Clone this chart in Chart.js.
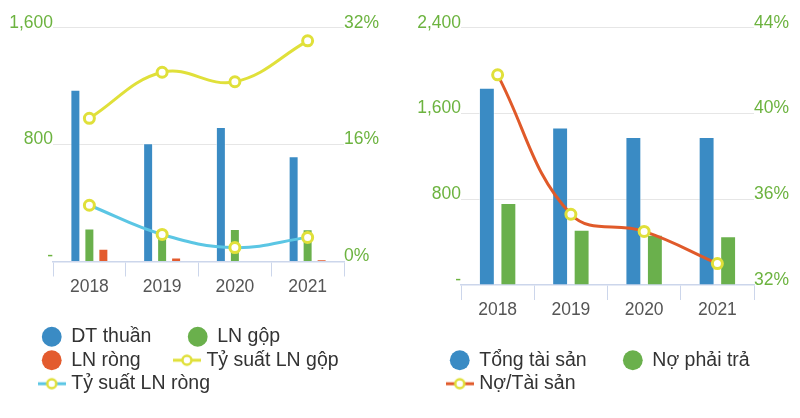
<!DOCTYPE html>
<html><head><meta charset="utf-8">
<script src="https://cdn.jsdelivr.net/npm/chart.js@4.4.0/dist/chart.umd.min.js"></script>
<style>
html,body{margin:0;padding:0;background:#fff;}
.wrap{display:flex;width:800px;height:418px;}
canvas{display:block;}
</style></head><body>
<div class="wrap"><canvas id="c1" width="400" height="418"></canvas><canvas id="c2" width="400" height="418"></canvas></div>
<script>
// ---- data ----
const categories = ['2018', '2019', '2020', '2021'];
// left chart
const dtThuan = [1175, 810, 920, 720];
const lnGop = [225, 210, 222, 220];
const lnRong = [88, 28, 0, 15];
const tsLnGop = [19.6, 25.9, 24.6, 30.2];
const tsLnRong = [7.7, 3.7, 1.9, 3.3];
const leftTicksY = [0, 800, 1600];
const leftTicksY1 = [0, 16, 32];
// right chart
const tongTaiSan = [1840, 1470, 1380, 1380];
const noPhaiTra = [765, 515, 468, 455];
const noTaiSan = [41.8, 35.3, 34.5, 33.0];
const rightTicksY = [0, 800, 1600, 2400];
const rightTicksY1 = [32, 36, 40, 44];

const FONT = '"Liberation Sans", Arial, Helvetica, sans-serif';
const BLUE = '#3a8bc4', GREEN = '#6ab04c', RED = '#e35b2e', YELLOW = '#e0e03a', CYAN = '#5bc6e4', ORANGE = '#e05a2a';
const TICK_GREEN = '#6cb33f';
const PAD = '      ';

function lineIcon(color) {
  const c = document.createElement('canvas');
  c.width = 28; c.height = 14;
  const g = c.getContext('2d');
  g.strokeStyle = color; g.lineWidth = 3;
  g.beginPath(); g.moveTo(0, 7); g.lineTo(28, 7); g.stroke();
  g.beginPath(); g.arc(14, 7, 4.5, 0, Math.PI * 2);
  g.fillStyle = '#fff'; g.fill();
  g.strokeStyle = YELLOW; g.lineWidth = 2.5; g.stroke();
  return c;
}

function barDs(label, data, color) {
  return { type: 'bar', label, data, backgroundColor: color, borderColor: 'rgba(255,255,255,0.55)', borderWidth: 1, borderSkipped: 'start', yAxisID: 'y', order: 1 };
}
function lineDs(label, data, color, axis) {
  return { type: 'line', label, data, borderColor: color, backgroundColor: color, borderWidth: 3, tension: 0.4,
    pointRadius: 5, pointHoverRadius: 5, pointBorderWidth: 3, pointBackgroundColor: '#fff', pointBorderColor: YELLOW,
    yAxisID: axis, order: 0, fill: false };
}

function makeLegend(icons) {
  return {
    position: 'bottom', align: 'start',
    labels: {
      usePointStyle: true, boxHeight: 14, padding: 4, color: '#333',
      font: { size: 19.5, family: FONT },
      generateLabels(chart) {
        const items = Chart.defaults.plugins.legend.labels.generateLabels(chart);
        items.sort((a, b) => a.datasetIndex - b.datasetIndex);
        items.forEach(it => {
          const ds = chart.data.datasets[it.datasetIndex];
          it.text = it.text + PAD;
          if (ds.type === 'line') {
            it.pointStyle = icons[it.datasetIndex];
          } else {
            it.pointStyle = 'circle';
            it.fillStyle = ds.backgroundColor;
            it.strokeStyle = ds.backgroundColor;
            it.lineWidth = 0;
          }
        });
        return items;
      }
    }
  };
}

function legendShift(dx) {
  return { id: 'legendShift', afterLayout(chart) { const l = chart.legend; if (l) { l.left += dx; l.right += dx; } } };
}

function numFmt(v) { return v === 0 ? '-' : v.toLocaleString('en-US'); }

function makeOptions(opts) {
  return {
    responsive: false, animation: false, devicePixelRatio: 1,
    layout: { padding: { left: 0, right: 0, top: 27.7, bottom: 14.5 } },
    plugins: { legend: makeLegend(opts.icons), tooltip: { enabled: false } },
    datasets: { bar: { categoryPercentage: opts.catPct, barPercentage: opts.barPct } },
    scales: {
      x: {
        grid: { offset: true, drawOnChartArea: false, drawTicks: true, tickLength: 15, color: '#ccd6eb', lineWidth: 1 },
        border: { display: true, color: '#ccd6eb', width: 1.5 },
        ticks: { padding: 0, color: '#555', font: { size: 17.5, family: FONT } },
        afterFit(s) { s.height = 61.5; }
      },
      y: {
        position: 'left', min: opts.yTicks[0], max: opts.yTicks[opts.yTicks.length - 1],
        afterBuildTicks(s) { s.ticks = opts.yTicks.map(v => ({ value: v })); },
        ticks: { padding: 0, labelOffset: -5, color: TICK_GREEN, font: { size: 17.5, family: FONT }, callback: v => numFmt(v) },
        grid: { drawTicks: false, color: ctx => (ctx.tick && ctx.tick.value === opts.yTicks[0]) ? 'rgba(0,0,0,0)' : '#e6e6e6', lineWidth: 1 },
        border: { display: false },
        afterFit(s) { s.width = opts.leftW; }
      },
      y1: {
        position: 'right', min: opts.y1Ticks[0], max: opts.y1Ticks[opts.y1Ticks.length - 1],
        afterBuildTicks(s) { s.ticks = opts.y1Ticks.map(v => ({ value: v })); },
        ticks: { padding: 0, labelOffset: -5, color: TICK_GREEN, font: { size: 17.5, family: FONT }, callback: v => v + '%' },
        grid: { display: false, drawTicks: false },
        border: { display: false },
        afterFit(s) { s.width = opts.rightW; }
      }
    }
  };
}

new Chart(document.getElementById('c1'), {
  data: {
    labels: categories,
    datasets: [
      barDs('DT thuần', dtThuan, BLUE),
      barDs('LN gộp', lnGop, GREEN),
      barDs('LN ròng', lnRong, RED),
      lineDs('Tỷ suất LN gộp', tsLnGop, YELLOW, 'y1'),
      lineDs('Tỷ suất LN ròng', tsLnRong, CYAN, 'y1')
    ]
  },
  options: makeOptions({ leftW: 53, rightW: 56, catPct: 0.577, barPct: 0.714,
    yTicks: leftTicksY, y1Ticks: leftTicksY1, icons: { 3: lineIcon(YELLOW), 4: lineIcon(CYAN) } }),
  plugins: [legendShift(38)]
});

new Chart(document.getElementById('c2'), {
  data: {
    labels: categories,
    datasets: [
      barDs('Tổng tài sản', tongTaiSan, BLUE),
      barDs('Nợ phải trả', noPhaiTra, GREEN),
      lineDs('Nợ/Tài sản', noTaiSan, ORANGE, 'y1')
    ]
  },
  options: makeOptions({ leftW: 61, rightW: 46, catPct: 0.587, barPct: 0.74,
    yTicks: rightTicksY, y1Ticks: rightTicksY1, icons: { 2: lineIcon(ORANGE) } }),
  plugins: [legendShift(46)]
});
</script>
</body></html>
